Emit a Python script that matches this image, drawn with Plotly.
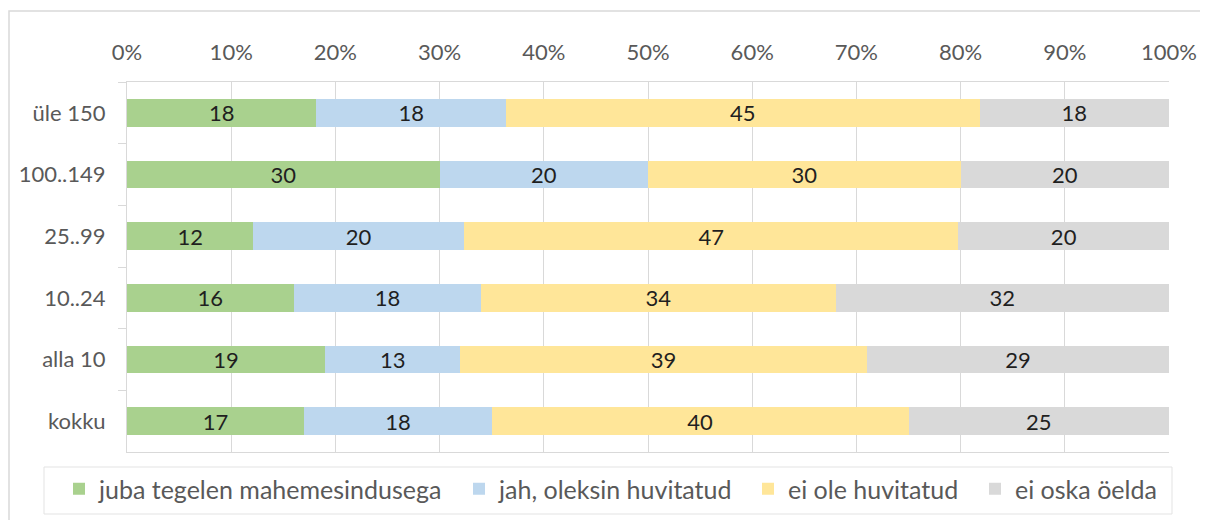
import plotly.graph_objects as go

# Categories (top to bottom) and series values (% of respondents)
categories = ["üle 150", "100..149", "25..99", "10..24", "alla 10", "kokku"]
series_names = [
    "juba tegelen mahemesindusega",
    "jah, oleksin huvitatud",
    "ei ole huvitatud",
    "ei oska öelda",
]
juba_tegelen = [18, 30, 12, 16, 19, 17]
oleksin_huvitatud = [18, 20, 20, 18, 13, 18]
ei_ole_huvitatud = [45, 30, 47, 34, 39, 40]
ei_oska_oelda = [18, 20, 20, 32, 29, 25]

colors = ["#A9D18E", "#BDD7EE", "#FFE699", "#D9D9D9"]
FONT = "Lato, 'Open Sans', sans-serif"

# page has an 8px body margin, so the figure is a bit smaller than the window
OFF = 8
W, H = 1208 - OFF, 520 - OFF
L, R, T, B = 127 - OFF, 1208 - 1169, 82 - OFF, 520 - 452


def px_x(p):
    # page pixel -> paper x
    return (p - OFF - L) / (W - L - R)


def px_y(p):
    # page pixel -> paper y
    return (H - B - (p - OFF)) / (H - T - B)


legend_left = [59, 459, 748, 975]  # page px of each legend entry

fig = go.Figure()
series = [juba_tegelen, oleksin_huvitatud, ei_ole_huvitatud, ei_oska_oelda]
legend_ids = ["legend", "legend2", "legend3", "legend4"]
for name, vals, col, lid in zip(series_names, series, colors, legend_ids):
    fig.add_trace(go.Bar(
        y=categories, x=vals, name=name, orientation="h",
        marker=dict(color=col, line=dict(width=0)),
        text=vals, texttemplate="%{text}",
        textposition="inside", insidetextanchor="middle", textangle=0,
        textfont=dict(size=22, color="#1F1F1F", family=FONT),
        constraintext="none", legend=lid,
    ))

legends = {}
for lid, lx in zip(legend_ids, legend_left):
    legends[lid] = dict(
        orientation="h", x=px_x(lx), xanchor="left", y=px_y(489), yanchor="middle",
        font=dict(size=25, color="#595959", family=FONT), bgcolor="rgba(0,0,0,0)",
    )

fig.update_layout(
    width=W, height=H,
    barmode="stack", barnorm="percent", bargap=0.55,
    paper_bgcolor="white", plot_bgcolor="white",
    font=dict(family=FONT, size=22, color="#595959"),
    margin=dict(l=L, r=R, t=T, b=B, autoexpand=False),
    xaxis=dict(
        side="top", range=[0, 100], dtick=10, ticksuffix="%",
        showgrid=True, gridcolor="#D9D9D9", gridwidth=1,
        showline=True, mirror=True, linecolor="#D9D9D9", linewidth=1,
        zeroline=False, ticks="", ticklabelstandoff=12,
        tickfont=dict(size=22, color="#595959"),
        fixedrange=True,
    ),
    yaxis=dict(
        autorange="reversed", showgrid=False,
        showline=True, linecolor="#D9D9D9", linewidth=1,
        ticks="outside", tickson="boundaries", ticklen=8, tickcolor="#D9D9D9",
        ticklabelstandoff=16,
        tickfont=dict(size=22, color="#595959"),
        fixedrange=True,
    ),
    showlegend=True,
    shapes=[
        # outer chart border (right/bottom edges cropped in reference)
        dict(type="rect", xref="paper", yref="paper",
             x0=px_x(9), x1=px_x(1240), y0=px_y(560), y1=px_y(11),
             line=dict(color="#D9D9D9", width=1.5), layer="below"),
        # legend box
        dict(type="rect", xref="paper", yref="paper",
             x0=px_x(44), x1=px_x(1172), y0=px_y(514), y1=px_y(467),
             line=dict(color="#E3E3E3", width=1), layer="below"),
    ],
    **legends,
)

fig.write_html("out.html")
